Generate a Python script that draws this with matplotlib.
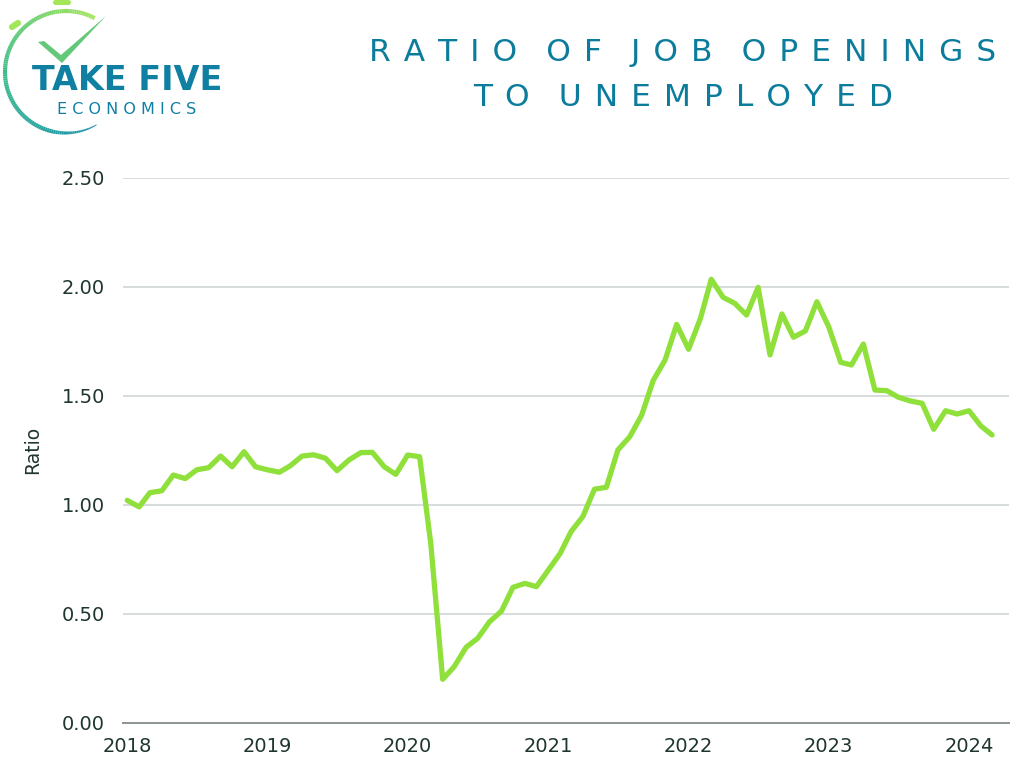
import matplotlib

matplotlib.use("Agg")
import matplotlib.pyplot as plt
import matplotlib.dates as mdates
import numpy as np
import pandas as pd
from matplotlib.patches import FancyBboxPatch

plt.rcParams["font.family"] = ["DejaVu Sans"]

# monthly ratio, Jan 2018 .. Mar 2024
ratio_2018 = [1.02, 0.99, 1.055, 1.064, 1.136, 1.12, 1.16, 1.17, 1.223, 1.174, 1.243, 1.174]
ratio_2019 = [1.16, 1.149, 1.178, 1.223, 1.229, 1.213, 1.156, 1.205, 1.239, 1.24, 1.174, 1.139]
ratio_2020 = [1.228, 1.22, 0.823, 0.199, 0.257, 0.346, 0.387, 0.463, 0.512, 0.621, 0.639, 0.624]
ratio_2021 = [0.70, 0.777, 0.876, 0.946, 1.071, 1.08, 1.251, 1.312, 1.411, 1.57, 1.664, 1.827]
ratio_2022 = [1.713, 1.855, 2.034, 1.951, 1.924, 1.870, 1.997, 1.687, 1.875, 1.768, 1.797, 1.931]
ratio_2023 = [1.815, 1.653, 1.641, 1.737, 1.526, 1.523, 1.493, 1.476, 1.465, 1.346, 1.431, 1.416]
ratio_2024 = [1.431, 1.361, 1.320]

ratio = ratio_2018 + ratio_2019 + ratio_2020 + ratio_2021 + ratio_2022 + ratio_2023 + ratio_2024
months = pd.date_range("2018-01-01", periods=len(ratio), freq="MS")
years = [2018, 2019, 2020, 2021, 2022, 2023, 2024]
y_ticks = [0.0, 0.5, 1.0, 1.5, 2.0, 2.5]

title = "RATIO OF JOB OPENINGS\nTO UNEMPLOYED"
TEAL = "#0b7c9c"
GREEN = "#8fe03a"
INK = "#1e3530"


def spaced(text):
    # imitate the wide letter spacing of the original heading
    gap = " \u200a"
    return "\n".join((gap + " \u2009").join(gap.join(w) for w in line.split(" "))
                     for line in text.split("\n"))


fig = plt.figure(figsize=(10.24, 7.68), dpi=100)
ax = fig.add_axes([123 / 1024, 45.3 / 768, 886 / 1024, 545 / 768])

ax.plot(months, ratio, color=GREEN, lw=3.8, solid_joinstyle="round", solid_capstyle="round")

ax.set_ylim(0, 2.5)
ax.set_yticks(y_ticks)
ax.set_yticklabels([f"{v:.2f}" for v in y_ticks])
ax.set_xlim(pd.Timestamp("2017-12-21"), pd.Timestamp("2024-04-14"))
ax.set_xticks([pd.Timestamp(f"{y}-01-01") for y in years])
ax.xaxis.set_major_formatter(mdates.DateFormatter("%Y"))

ax.grid(axis="y", color="#d8dcdc", lw=1.4)
ax.set_axisbelow(True)
for s in ["top", "right", "left"]:
    ax.spines[s].set_visible(False)
ax.spines["bottom"].set_color("#8c9494")
ax.spines["bottom"].set_linewidth(1.4)
ax.tick_params(axis="y", length=0, pad=13, labelsize=14, labelcolor=INK)
ax.tick_params(axis="x", length=0, pad=10, labelsize=14, labelcolor=INK)
ax.set_ylabel("Ratio", fontsize=13.5, color=INK, labelpad=14)

fig.text(0.667, 0.902, spaced(title), ha="center", va="center", fontsize=22.5,
         color=TEAL, linespacing=1.7)

# logo (pixel-like coords, y down)
lax = fig.add_axes([0, 1 - 140 / 768, 240 / 1024, 140 / 768])
lax.set_xlim(0, 240)
lax.set_ylim(140, 0)
lax.axis("off")
t = np.radians(np.linspace(62, 300, 120))
arc_x = 66 + 61 * np.cos(t)
arc_y = 72 - 61 * np.sin(t)
arc_cmap = matplotlib.colors.LinearSegmentedColormap.from_list("lg", ["#a4e65a", "#3dbb8a", "#1591b2"])
for i in range(len(t) - 1):
    f = i / (len(t) - 1)
    lw = 3.0 if f < 0.8 else 3.0 - (f - 0.8) * 12
    lax.plot(arc_x[i:i + 2], arc_y[i:i + 2], color=arc_cmap(f), lw=max(lw, 0.6),
             solid_capstyle="butt")
lax.add_patch(FancyBboxPatch((53, 0), 18, 5, boxstyle="round,pad=0,rounding_size=2.5",
                             color="#a4e65a", lw=0))
lax.plot([12, 18], [27, 23], color="#a4e65a", lw=4.5, solid_capstyle="round")
lax.fill([38, 44, 61, 106, 62], [42, 41, 55, 16, 63], color="#63c87a", lw=0)
lax.text(127, 81, "TAKE FIVE", ha="center", va="center", fontsize=24, fontweight="bold",
         color="#0f7fa2")
lax.text(127, 110, "E C O N O M I C S", ha="center", va="center", fontsize=11.5,
         color="#0f7fa2")

fig.savefig("out.png", dpi=100)
